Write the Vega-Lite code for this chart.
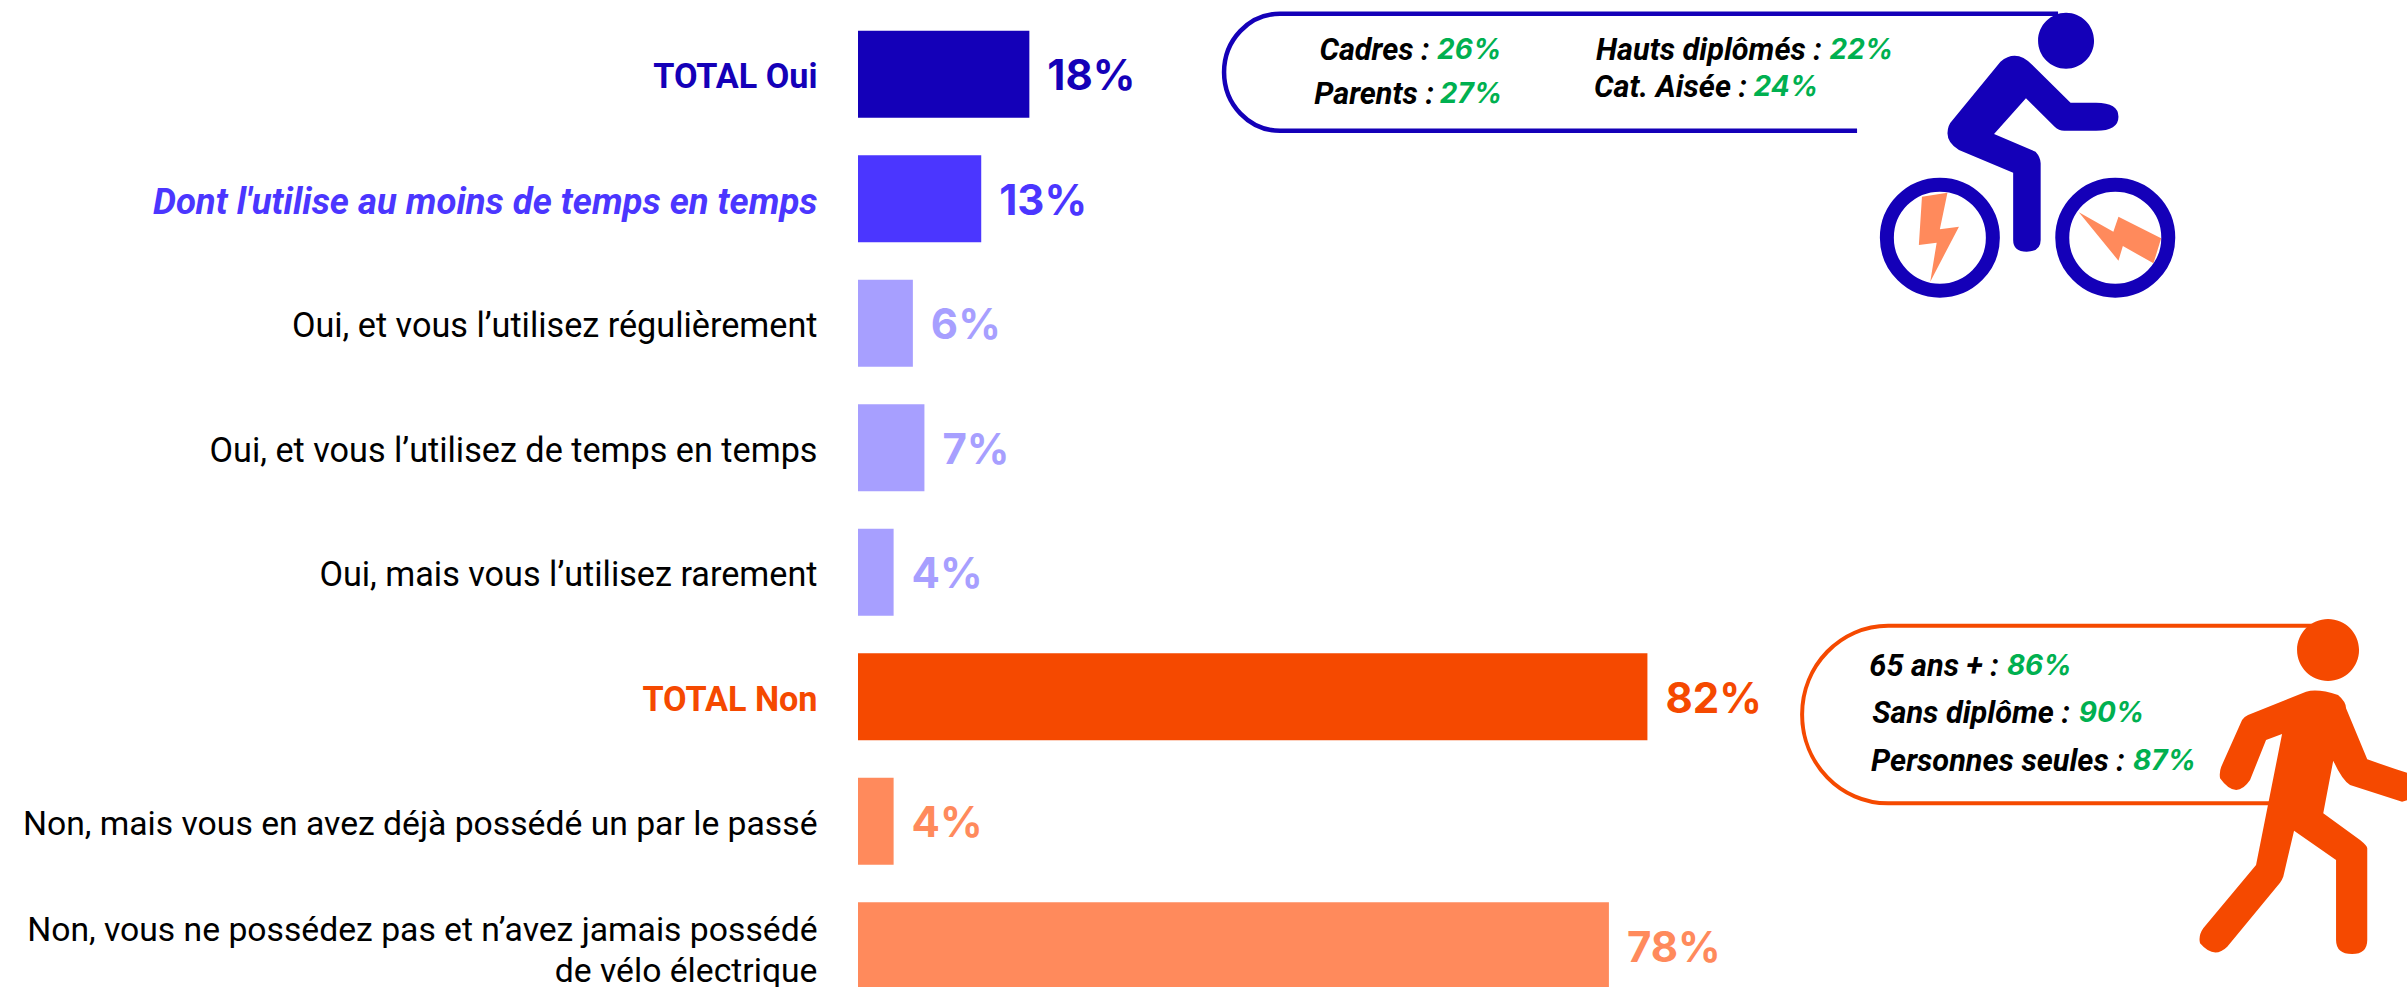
{
"$schema":"https://vega.github.io/schema/vega-lite/v6.json",
"autosize":{"type":"none"},
"padding":{"left":858,"top":12,"right":0,"bottom":0},
"width":1549,"height":975,
"background":"white",
"view":{"stroke":null},
"config":{"font":"Roboto"},
"layer":[
{"data":{"name":"reponses"},"mark":{"type":"bar"},
 "encoding":{
 "y":{"field":"reponse","type":"nominal","sort":null,
 "scale":{"domain":["TOTAL Oui","Dont l'utilise au moins de temps en temps","Oui, et vous l’utilisez régulièrement","Oui, et vous l’utilisez de temps en temps","Oui, mais vous l’utilisez rarement","TOTAL Non","Non, mais vous en avez déjà possédé un par le passé","Non, vous ne possédez pas et n’avez jamais possédé de vélo électrique"],"range":[0,996],"paddingInner":0.3,"paddingOuter":0.15},
 "axis":{"title":null,"domain":false,"ticks":false,"labelPadding":41,"labelLimit":900,"labelFont":"Roboto","labelOffset":{"expr":"indexof(datum.value,'Non, vous ne')==0?-15:4"},"labelLineHeight":41,"labelBound":false,"labelOverlap":false,
  "labelExpr":"datum.value=='Non, vous ne possédez pas et n’avez jamais possédé de vélo électrique'?['Non, vous ne possédez pas et n’avez jamais possédé','de vélo électrique']:datum.label",
  "labelFontSize":{"expr":"indexof(datum.value,'Dont')==0?36.5:indexof(datum.value,'Non')==0?33.7:34.2"},
  "labelColor":{"expr":"datum.value=='TOTAL Oui'?'#1400B8':datum.value=='TOTAL Non'?'#F54900':indexof(datum.value,'Dont')==0?'#4B36FF':'black'"},
  "labelFontWeight":{"expr":"indexof(datum.value,'TOTAL')==0||indexof(datum.value,'Dont')==0?'bold':'normal'"},
  "labelFontStyle":{"expr":"indexof(datum.value,'Dont')==0?'italic':'normal'"}}},
 "x":{"field":"part","type":"quantitative","scale":{"domain":[0,1.609],"nice":false},"axis":null},
 "color":{"field":"groupe","type":"nominal","legend":null,"scale":{"domain":["total oui","dont","oui","total non","non"],"range":["#1400B8","#4B36FF","#A79FFF","#F54900","#FF8A5C"]}}
 }},
{"data":{"name":"reponses"},"mark":{"type":"text","align":"left","baseline":"middle","dx":18,"dy":3,"font":"Inter","fontSize":42,"fontWeight":"bold"},"encoding":{"y":{"field":"reponse","type":"nominal","sort":null},"x":{"field":"part","type":"quantitative"},"color":{"field":"groupe","type":"nominal"},"text":{"field":"part","format":".0%"}}},
{"data":{"values":[{"forme":"bulle"}]},"mark":{"type":"point","shape":"M55.4 -60.5 L-722.6 -60.5 A56 58.5 0 0 0 -722.6 56.5 L-145.6 56.5","size":4,"filled":false,"fill":null,"stroke":"#1400B8","strokeWidth":4.5,"opacity":1},"encoding":{"x":{"datum":1.189,"type":"quantitative"},"y":{"datum":"TOTAL Oui","type":"nominal"}}},
{"data":{"values":[{"forme":"cycliste"}]},"mark":{"type":"point","shape":"M-2.2 -12.6 Q13.7 -26 29.7 -9.3 L67.9 28.4 L93.4 28.4 Q115.8 28.4 115.8 42.4 Q115.8 56.4 93.4 56.4 L61.6 56.4 Q56 56.4 52 52.4 L23.3 24.1 L-8.6 59.75 L32.9 77.4 Q38 83 38 89.1 L38 165.75 Q38 177.4 24 177.4 Q10.5 177.4 10.5 165.75 L10.5 98.4 L-43.7 75.75 Q-55.2 69 -55.2 59.1 Q-55.2 51 -50 45.75 Z M35.4 -33.55 A28 28 0 1 1 91.4 -33.55 A28 28 0 1 1 35.4 -33.55 Z","size":4,"filled":true,"fill":"#1400B8","opacity":1},"encoding":{"x":{"datum":1.189,"type":"quantitative"},"y":{"datum":"TOTAL Oui","type":"nominal"}}},
{"data":{"values":[{"forme":"roues"}]},"mark":{"type":"point","shape":"M-115.8 163.4 A53 53 0 1 1 -9.8 163.4 A53 53 0 1 1 -115.8 163.4 Z M59.6 163.4 A53 53 0 1 1 165.6 163.4 A53 53 0 1 1 59.6 163.4 Z","size":4,"filled":false,"fill":null,"stroke":"#1400B8","strokeWidth":14,"opacity":1},"encoding":{"x":{"datum":1.189,"type":"quantitative"},"y":{"datum":"TOTAL Oui","type":"nominal"}}},
{"data":{"values":[{"forme":"éclairs"}]},"mark":{"type":"point","shape":"M-80.7 122.4 L-55.2 118.4 L-62.8 155.1 L-43.7 152.4 L-72.4 207.4 L-66 168.4 L-83.8 170.75 Z M76.2 138.1 L110.7 157.4 L115.8 142.4 L158.5 164.1 L150.8 189.1 L120.2 171.75 L115.8 186.4 Z","size":4,"filled":true,"fill":"#FF8A5C","opacity":1},"encoding":{"x":{"datum":1.189,"type":"quantitative"},"y":{"datum":"TOTAL Oui","type":"nominal"}}},
{"data":{"values":[{"forme":"bulle"}]},"mark":{"type":"point","shape":"M11 -71 L-413 -71 A86 88.8 0 0 0 -413 106.6 L-31 106.6","size":4,"filled":false,"fill":null,"stroke":"#F54900","strokeWidth":4,"opacity":1},"encoding":{"x":{"datum":1.499,"type":"quantitative"},"y":{"datum":"TOTAL Non","type":"nominal"}}},
{"data":{"values":[{"forme":"marcheur"}]},"mark":{"type":"point","shape":"M-53.05 18.25 L4.95 -5.08 Q16.95 -8.4 36.95 -1.75 Q44.95 5 44.95 11.6 L66.15 62.6 L94.95 72.6 L118.95 79.9 Q122.95 99.9 100.95 104.9 L48.95 88.25 Q40.95 83.25 32.15 63.9 L22.15 116.6 L58.95 143.25 Q66.15 149 66.15 151.6 L66.15 243.25 Q66.15 257.25 50.95 257.25 Q34.95 257.25 34.95 243.25 L34.95 163.25 L-7.05 133.9 L-17.85 179.9 Q-19 183 -21.05 185.9 L-73.85 249.9 Q-87.05 263 -101.05 246.6 Q-103 239 -97.85 231.6 L-45.05 168.25 L-19.05 37.25 L-35.05 43.25 L-51.05 83.25 Q-65.05 104 -81.05 81.6 Q-82 75 -79.85 69.9 L-59.05 23.25 Q-57 20 -53.05 18.25 Z M-4.05 -46.75 A31 31 0 1 1 57.95 -46.75 A31 31 0 1 1 -4.05 -46.75 Z","size":4,"filled":true,"fill":"#F54900","opacity":1},"encoding":{"x":{"datum":1.499,"type":"quantitative"},"y":{"datum":"TOTAL Non","type":"nominal"}}},
{"data":{"values":[{"libelle":"Cadres :"}]},"mark":{"type":"text","align":"right","baseline":"middle","dy":-23,"fontSize":30.7,"fontWeight":"bold","fontStyle":"italic","color":"black"},"encoding":{"x":{"datum":0.5938,"type":"quantitative"},"y":{"datum":"TOTAL Oui","type":"nominal"},"text":{"field":"libelle"}}},
{"data":{"values":[{"score":0.26}]},"mark":{"type":"text","align":"left","baseline":"middle","dy":-23,"font":"Inter","fontSize":28,"fontWeight":"bold","fontStyle":"italic","color":"#00B050"},"encoding":{"x":{"datum":0.6015,"type":"quantitative"},"y":{"datum":"TOTAL Oui","type":"nominal"},"text":{"field":"score","format":".0%"}}},
{"data":{"values":[{"libelle":"Parents :"}]},"mark":{"type":"text","align":"right","baseline":"middle","dy":21,"fontSize":30.7,"fontWeight":"bold","fontStyle":"italic","color":"black"},"encoding":{"x":{"datum":0.5983,"type":"quantitative"},"y":{"datum":"TOTAL Oui","type":"nominal"},"text":{"field":"libelle"}}},
{"data":{"values":[{"score":0.27}]},"mark":{"type":"text","align":"left","baseline":"middle","dy":21,"font":"Inter","fontSize":28,"fontWeight":"bold","fontStyle":"italic","color":"#00B050"},"encoding":{"x":{"datum":0.6043,"type":"quantitative"},"y":{"datum":"TOTAL Oui","type":"nominal"},"text":{"field":"score","format":".0%"}}},
{"data":{"values":[{"libelle":"Hauts diplômés :"}]},"mark":{"type":"text","align":"right","baseline":"middle","dy":-23,"fontSize":30.7,"fontWeight":"bold","fontStyle":"italic","color":"black"},"encoding":{"x":{"datum":1.0012,"type":"quantitative"},"y":{"datum":"TOTAL Oui","type":"nominal"},"text":{"field":"libelle"}}},
{"data":{"values":[{"score":0.22}]},"mark":{"type":"text","align":"left","baseline":"middle","dy":-23,"font":"Inter","fontSize":28,"fontWeight":"bold","fontStyle":"italic","color":"#00B050"},"encoding":{"x":{"datum":1.0092,"type":"quantitative"},"y":{"datum":"TOTAL Oui","type":"nominal"},"text":{"field":"score","format":".0%"}}},
{"data":{"values":[{"libelle":"Cat. Aisée :"}]},"mark":{"type":"text","align":"right","baseline":"middle","dy":14,"fontSize":30.7,"fontWeight":"bold","fontStyle":"italic","color":"black"},"encoding":{"x":{"datum":0.9235,"type":"quantitative"},"y":{"datum":"TOTAL Oui","type":"nominal"},"text":{"field":"libelle"}}},
{"data":{"values":[{"score":0.24}]},"mark":{"type":"text","align":"left","baseline":"middle","dy":14,"font":"Inter","fontSize":28,"fontWeight":"bold","fontStyle":"italic","color":"#00B050"},"encoding":{"x":{"datum":0.9303,"type":"quantitative"},"y":{"datum":"TOTAL Oui","type":"nominal"},"text":{"field":"score","format":".0%"}}},
{"data":{"values":[{"libelle":"65 ans + :"}]},"mark":{"type":"text","align":"right","baseline":"middle","dy":-30,"fontSize":30.7,"fontWeight":"bold","fontStyle":"italic","color":"black"},"encoding":{"x":{"datum":1.185,"type":"quantitative"},"y":{"datum":"TOTAL Non","type":"nominal"},"text":{"field":"libelle"}}},
{"data":{"values":[{"score":0.86}]},"mark":{"type":"text","align":"left","baseline":"middle","dy":-30,"font":"Inter","fontSize":28,"fontWeight":"bold","fontStyle":"italic","color":"#00B050"},"encoding":{"x":{"datum":1.1934,"type":"quantitative"},"y":{"datum":"TOTAL Non","type":"nominal"},"text":{"field":"score","format":".0%"}}},
{"data":{"values":[{"libelle":"Sans diplôme :"}]},"mark":{"type":"text","align":"right","baseline":"middle","dy":17.5,"fontSize":30.7,"fontWeight":"bold","fontStyle":"italic","color":"black"},"encoding":{"x":{"datum":1.2589,"type":"quantitative"},"y":{"datum":"TOTAL Non","type":"nominal"},"text":{"field":"libelle"}}},
{"data":{"values":[{"score":0.9}]},"mark":{"type":"text","align":"left","baseline":"middle","dy":17.5,"font":"Inter","fontSize":28,"fontWeight":"bold","fontStyle":"italic","color":"#00B050"},"encoding":{"x":{"datum":1.268,"type":"quantitative"},"y":{"datum":"TOTAL Non","type":"nominal"},"text":{"field":"score","format":".0%"}}},
{"data":{"values":[{"libelle":"Personnes seules :"}]},"mark":{"type":"text","align":"right","baseline":"middle","dy":65.5,"fontSize":30.7,"fontWeight":"bold","fontStyle":"italic","color":"black"},"encoding":{"x":{"datum":1.3159,"type":"quantitative"},"y":{"datum":"TOTAL Non","type":"nominal"},"text":{"field":"libelle"}}},
{"data":{"values":[{"score":0.87}]},"mark":{"type":"text","align":"left","baseline":"middle","dy":65.5,"font":"Inter","fontSize":28,"fontWeight":"bold","fontStyle":"italic","color":"#00B050"},"encoding":{"x":{"datum":1.3243,"type":"quantitative"},"y":{"datum":"TOTAL Non","type":"nominal"},"text":{"field":"score","format":".0%"}}}
],
"datasets":{"reponses":[
{"reponse":"TOTAL Oui","groupe":"total oui","part":0.178},
{"reponse":"Dont l'utilise au moins de temps en temps","groupe":"dont","part":0.128},
{"reponse":"Oui, et vous l’utilisez régulièrement","groupe":"oui","part":0.057},
{"reponse":"Oui, et vous l’utilisez de temps en temps","groupe":"oui","part":0.069},
{"reponse":"Oui, mais vous l’utilisez rarement","groupe":"oui","part":0.037},
{"reponse":"TOTAL Non","groupe":"total non","part":0.82},
{"reponse":"Non, mais vous en avez déjà possédé un par le passé","groupe":"non","part":0.037},
{"reponse":"Non, vous ne possédez pas et n’avez jamais possédé de vélo électrique","groupe":"non","part":0.78}
]}
}
